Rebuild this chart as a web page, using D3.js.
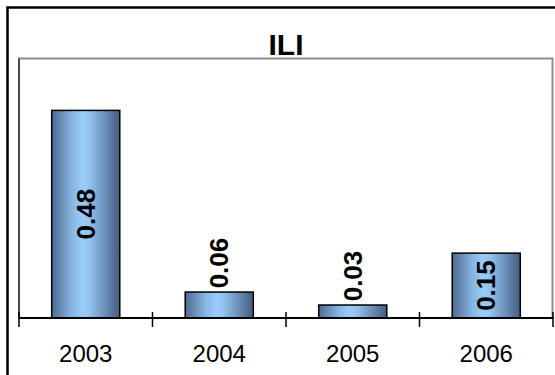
<!DOCTYPE html>
<html>
<head>
<meta charset="utf-8">
<script src="https://cdn.jsdelivr.net/npm/d3@7"></script>
<style>
  html, body { margin: 0; padding: 0; background: #fff; }
  svg { display: block; }
</style>
</head>
<body>
<script>
// Chart data
const title = "ILI";
const years = ["2003", "2004", "2005", "2006"];
const values = [0.48, 0.06, 0.03, 0.15];
const valueDomain = [0, 0.6];

const W = 555, H = 375;
const plot = { left: 19, right: 553, top: 58.5, bottom: 318 };

const svg = d3.select("body").append("svg")
  .attr("width", W).attr("height", H);

// Horizontal steel-blue gradient for the bars
const defs = svg.append("defs");
const grad = defs.append("linearGradient")
  .attr("id", "barGrad").attr("x1", "0%").attr("x2", "100%").attr("y1", "0%").attr("y2", "0%");
[
  [0, "#4c6c92"], [0.12, "#6688b1"], [0.3, "#88b6e3"], [0.45, "#99cbfb"],
  [0.55, "#94c4f2"], [0.75, "#7196bf"], [0.9, "#56739a"], [1, "#475f7e"]
].forEach(([o, c]) => grad.append("stop").attr("offset", o).attr("stop-color", c));

// Outer chart frame
svg.append("rect")
  .attr("x", 7.5).attr("y", 7.5).attr("width", W + 20).attr("height", H + 20)
  .attr("fill", "#fff").attr("stroke", "#000").attr("stroke-width", 2.5);

// Scales
const x = d3.scaleBand().domain(years)
  .range([plot.left, plot.right])
  .paddingInner(0.49).paddingOuter(0.245);
const y = d3.scaleLinear().domain(valueDomain).range([plot.bottom, plot.top]);

// Plot area border
svg.append("rect")
  .attr("x", plot.left).attr("y", plot.top)
  .attr("width", 552.5 - plot.left).attr("height", plot.bottom - plot.top)
  .attr("fill", "none").attr("stroke", "#8c8c8c").attr("stroke-width", 2);

// Value axis line (no labels)
svg.append("line")
  .attr("x1", plot.left).attr("x2", plot.left)
  .attr("y1", plot.top).attr("y2", plot.bottom)
  .attr("stroke", "#000").attr("stroke-width", 1);

// Title
svg.append("text")
  .attr("x", (plot.left + plot.right) / 2).attr("y", 55)
  .attr("text-anchor", "middle")
  .attr("font-family", "Liberation Sans, Arial, sans-serif")
  .attr("font-weight", "bold").attr("font-size", 30)
  .text(title);

// Bars
const data = years.map((yr, i) => ({ year: yr, value: values[i] }));
svg.append("g").selectAll("rect").data(data).join("rect")
  .attr("x", d => x(d.year))
  .attr("y", d => y(d.value))
  .attr("width", x.bandwidth())
  .attr("height", d => y(0) - y(d.value))
  .attr("fill", "url(#barGrad)")
  .attr("stroke", "#000").attr("stroke-width", 1.5);

// Category axis with ticks between categories
const boundaries = d3.range(years.length + 1).map(i => plot.left + i * x.step());
svg.append("line")
  .attr("x1", plot.left).attr("x2", plot.right)
  .attr("y1", plot.bottom).attr("y2", plot.bottom)
  .attr("stroke", "#000").attr("stroke-width", 2);
svg.append("g").selectAll("line").data(boundaries).join("line")
  .attr("x1", d => d).attr("x2", d => d)
  .attr("y1", plot.bottom - 6).attr("y2", plot.bottom + 9)
  .attr("stroke", "#000").attr("stroke-width", 1.5);

svg.append("g").selectAll("text").data(years).join("text")
  .attr("x", d => x(d) + x.bandwidth() / 2)
  .attr("y", 362)
  .attr("text-anchor", "middle")
  .attr("font-family", "Liberation Sans, Arial, sans-serif")
  .attr("font-size", 24)
  .text(d => d);

// Rotated value labels: centred inside tall bars, above short ones
const labelFont = 26;
const labelLen = 50;
svg.append("g").selectAll("text").data(data).join("text")
  .attr("font-family", "Liberation Sans, Arial, sans-serif")
  .attr("font-weight", "bold").attr("font-size", labelFont)
  .attr("text-anchor", "middle")
  .attr("dominant-baseline", "central")
  .attr("transform", d => {
    const cx = x(d.year) + x.bandwidth() / 2;
    const h = y(0) - y(d.value);
    const cy = h > labelLen + 8 ? (y(d.value) + y(0)) / 2 : y(d.value) - 4 - labelLen / 2;
    return `translate(${cx},${cy}) rotate(-90)`;
  })
  .text(d => d3.format(".2f")(d.value));
</script>
</body>
</html>
